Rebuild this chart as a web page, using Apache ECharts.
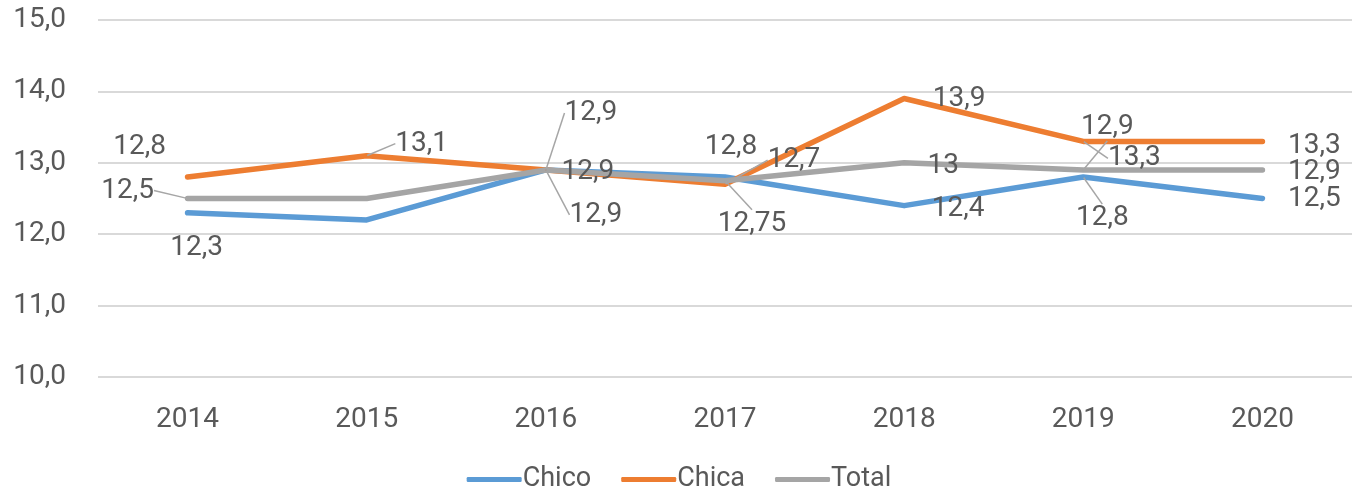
<!DOCTYPE html>
<html>
<head>
<meta charset="utf-8">
<script src="https://cdn.jsdelivr.net/npm/echarts@6/dist/echarts.min.js"></script>
<style>
  html, body { margin: 0; padding: 0; background: #fff; }
  #chart { width: 1358px; height: 498px; }
</style>
</head>
<body>
<div id="chart"></div>
<script>
const years = ['2014', '2015', '2016', '2017', '2018', '2019', '2020'];
const chico = [12.3, 12.2, 12.9, 12.8, 12.4, 12.8, 12.5];
const chica = [12.8, 13.1, 12.9, 12.7, 13.9, 13.3, 13.3];
const total = [12.5, 12.5, 12.9, 12.75, 13, 12.9, 12.9];
const yTicks = [10, 11, 12, 13, 14, 15];

// label placement (dx, dy from the point), null = no label, third item = leader line
const chicoLabels = [[9, 35], null, [50, 45, 1], [6, -30], [54, 3], [19, 41, 1], [52, 0]];
const chicaLabels = [[-48, -30], [55, -12, 1], [42, 2], [69, -24, 1], [55, 0], [51, 17, 1], [52, 5]];
const totalLabels = [[-60, -8, 1], null, [45, -57, 1], [27, 43, 1], [39, 3], [24, -43, 1], [52, 2]];

const FONT = "Roboto, 'DejaVu Sans Condensed', sans-serif";
const TXT = '#595959';

function fmt(v) { return String(v).replace('.', ','); }

function buildData(values, labels) {
  return values.map((v, i) => ({
    value: v,
    label: { show: labels[i] !== null },
    labelLine: { show: !!(labels[i] && labels[i][2]) }
  }));
}

function makeSeries(name, values, labels, color) {
  return {
    name: name,
    type: 'line',
    data: buildData(values, labels),
    symbol: 'circle',
    symbolSize: 1,
    lineStyle: { color: color, width: 5.5, cap: 'round', join: 'round' },
    itemStyle: { color: color },
    label: {
      show: true,
      position: 'inside',
      color: TXT,
      fontFamily: FONT,
      fontSize: 28,
      formatter: p => fmt(p.value)
    },
    labelLine: { show: false, lineStyle: { color: '#A6A6A6', width: 1.5 } },
    labelLayout: p => {
      const l = labels[p.dataIndex];
      return l ? { dx: l[0], dy: l[1] } : {};
    },
    emphasis: { disabled: true }
  };
}

const chart = echarts.init(document.getElementById('chart'));
chart.setOption({
  animation: false,
  textStyle: { fontFamily: FONT },
  grid: { left: 98, right: 6, top: 20, bottom: 121 },
  xAxis: {
    type: 'category',
    data: years,
    boundaryGap: true,
    axisLine: { show: false },
    axisTick: { show: false },
    axisLabel: { color: TXT, fontSize: 28, fontFamily: FONT, margin: 29 }
  },
  yAxis: {
    type: 'value',
    min: yTicks[0],
    max: yTicks[yTicks.length - 1],
    interval: 1,
    axisLine: { show: false },
    axisTick: { show: false },
    axisLabel: { color: TXT, fontSize: 28, fontFamily: FONT, margin: 32, formatter: v => v.toFixed(1).replace('.', ',') },
    splitLine: { lineStyle: { color: '#D9D9D9', width: 2 } }
  },
  legend: {
    bottom: 0,
    left: 'center',
    icon: 'roundRect',
    itemWidth: 55,
    itemHeight: 5,
    itemGap: 30,
    textStyle: { color: TXT, fontSize: 27, fontFamily: FONT, padding: [0, 0, 0, -4] },
    data: ['Chico', 'Chica', 'Total']
  },
  series: [
    makeSeries('Chico', chico, chicoLabels, '#5B9BD5'),
    makeSeries('Chica', chica, chicaLabels, '#ED7D31'),
    makeSeries('Total', total, totalLabels, '#A5A5A5')
  ]
});
</script>
</body>
</html>
